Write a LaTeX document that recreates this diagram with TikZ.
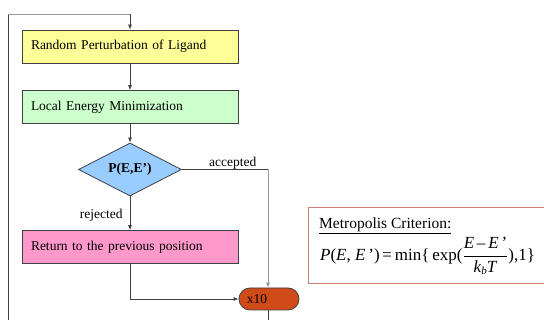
\documentclass[tikz,border=0pt]{standalone}
\usepackage{fontspec}
\setmainfont{Liberation Serif}
\usetikzlibrary{arrows.meta,shapes.geometric}
\definecolor{bord}{HTML}{404040}
\definecolor{lgray}{HTML}{999999}
\definecolor{cyellow}{HTML}{FFFF99}
\definecolor{cgreen}{HTML}{CCFFCC}
\definecolor{cblue}{HTML}{99CCFF}
\definecolor{cpink}{HTML}{FF99CC}
\definecolor{corange}{HTML}{D04A1A}
\definecolor{cmet}{HTML}{C8826E}
\tikzset{
  stepbox/.style={draw=bord, line width=0.8pt, minimum width=216pt, minimum height=33pt, text width=198pt, align=left, inner sep=0pt, font=\fontsize{13.5}{15}\selectfont},
  conn/.style={draw=bord, line width=0.7pt, -{Latex[length=5pt,width=4pt]}},
  plain/.style={draw=bord, line width=0.7pt},
  lbl/.style={font=\fontsize{13.5}{15}\selectfont, inner sep=1pt}
}
\begin{document}
\begin{tikzpicture}[x=1pt,y=-1pt]
\useasboundingbox (0,0) rectangle (544,320);
\node[stepbox, fill=cyellow] (rand) at (130,46.5) {Random Perturbation of Ligand};
\node[stepbox, fill=cgreen] (min) at (130,107) {Local Energy Minimization};
\node[diamond, draw=bord, line width=0.8pt, fill=cblue, minimum width=103pt, minimum height=53pt, aspect=1.95, inner sep=0pt, font=\fontsize{13.5}{15}\selectfont\bfseries] (dec) at (130,169.5) {P(E,E’)};
\node[stepbox, fill=cpink] (ret) at (130,247) {Return to the previous position};
\node[draw=bord, line width=0.8pt, fill=corange, rounded corners=11pt, minimum width=60pt, minimum height=22pt, inner sep=0pt, font=\fontsize{13.5}{15}\selectfont] (x10) at (269,299) {\hspace*{-24pt}x10};
\coordinate (tl) at (8,14);
\coordinate (bl) at (8,320);
\coordinate (tm) at (130,14);
\coordinate (acc) at (268,169.5);
\coordinate (bot) at (268,320);
\coordinate (rb) at (130,299);
\draw[plain] (bl) -- (tl);
\draw[line width=0.7pt, draw=lgray] (tl) -- (tm);
\draw[conn] (tm) -- (rand.north);
\draw[conn] (rand.south) -- (min.north);
\draw[conn] (min.south) -- (dec.north);
\draw[plain] (dec.east) -- node[lbl, above, pos=0.59, yshift=-1pt] {accepted} (acc);
\draw[conn, draw=lgray] (acc) -- (x10.north -| acc);
\draw[conn] (dec.south) -- node[lbl, left, pos=0.55, xshift=-6pt] {rejected} (ret.north);
\draw[plain] (ret.south) -- (rb);
\draw[conn] (rb) -- (x10.west);
\draw[plain] (x10.south -| bot) -- (bot);
\node[draw=cmet, line width=1pt, minimum width=240pt, minimum height=76pt, anchor=north west, inner sep=0pt] (met) at (308,207.5) {};
\node[anchor=west, inner sep=0pt, font=\fontsize{15.5}{17}\selectfont] (mt) at (319,226) {\underline{Metropolis Criterion:}};
\node[anchor=west, inner sep=0pt, font=\fontsize{17}{19}\selectfont] (mf) at (320,256) {\textit{P}(\textit{E}, \textit{E}\,')\,=\,min\{\,exp($\displaystyle\frac{\hbox{\textit{E}\,–\,\textit{E}\,'}}{\hbox{\textit{k}\raisebox{-2pt}{\fontsize{11}{12}\selectfont\textit{b}}\textit{T}}}$),1\}};
\end{tikzpicture}
\end{document}
